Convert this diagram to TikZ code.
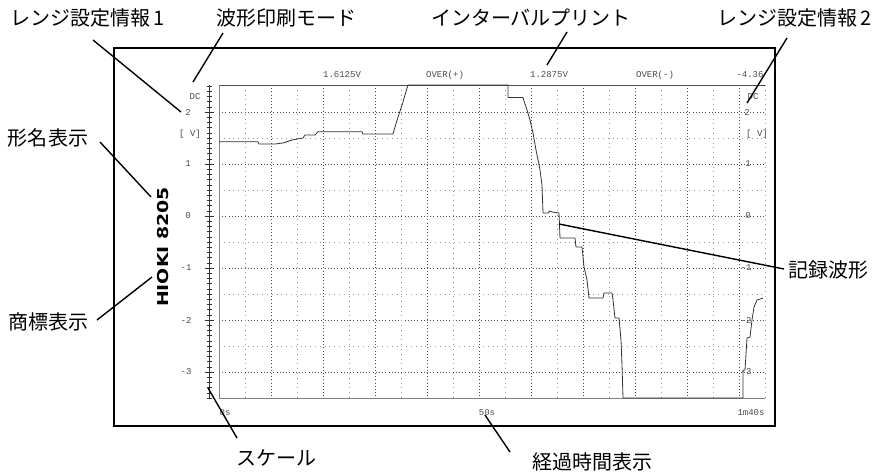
\documentclass[tikz,border=0pt]{standalone}
\usepackage{fontspec}
\usepackage{graphicx}
\newfontfamily\jpfont{Noto Sans CJK JP}
\newfontfamily\lcdfont{Liberation Mono}
\newfontfamily\logofont{DejaVu Sans}
\usetikzlibrary{calc}

\begin{document}
\begin{tikzpicture}[x=1pt, y=-1pt,
    callout/.style={font=\jpfont\fontsize{20}{22}\selectfont, inner sep=0pt},
    leader/.style={line width=1.4pt},
    lcd/.style={font=\lcdfont\fontsize{9}{10}\selectfont, text=black!70, inner sep=0pt},
    majorgrid/.style={black!70, line width=0.6pt, dash pattern=on 0.8pt off 2.4pt},
    minorgrid/.style={black!40, line width=0.6pt, dash pattern=on 0.8pt off 4pt},
    wave/.style={black!80, line width=0.8pt, line join=round}]
    \useasboundingbox (0,0) rectangle (880,473);

    % recorder paper
    \draw[line width=1.5pt] (114,48) rectangle (775,426);

    % grid
    \foreach \v in {-3,...,2}
        \draw[majorgrid] (219,{216-52*\v}) -- (765,{216-52*\v});
    \foreach \v in {-2.5,-1.5,...,1.5}
        \draw[minorgrid] (219,{216-52*\v}) -- (765,{216-52*\v});
    \foreach \k in {2,4,...,20}
        \draw[majorgrid] ({219+26*\k},85) -- ({219+26*\k},398);
    \foreach \k in {1,3,...,21}
        \draw[minorgrid] ({219+26*\k},85) -- ({219+26*\k},398);
    \draw[black!70, line width=0.8pt] (765,85) -- (219,85);
    \draw[black!50, line width=0.8pt] (219,85) -- (219,398) -- (765,398);

    % scale
    \draw[black!80, line width=0.7pt] (209,85) -- (209,398);
    \foreach \i in {0,...,60}
        \draw[black!80, line width=0.5pt] (206.5,{398-5.2*\i}) -- (211.5,{398-5.2*\i});
    \foreach \v in {-3,...,2}
        \draw[black!80, line width=0.7pt] (204.5,{216-52*\v}) -- (213.5,{216-52*\v});

    % recorded waveform
    \draw[wave] (219,141.7) -- (258,141.7) -- (259,144) -- (275,144) -- (283,143)
        -- (292,140) -- (303,138) -- (305,135) -- (315,135) -- (318,131.7)
        -- (362,131.7) -- (363,134) -- (393,134) -- (395,127) -- (398,117)
        -- (401,108) -- (403,102) -- (405,95) -- (407,88) -- (408,85)
        -- (508,85) -- (508,97.5) -- (523,97.5) -- (524,101) -- (527,110)
        -- (530,120) -- (533,133) -- (536,150) -- (540,170) -- (542,185)
        -- (543,213) -- (548,213) -- (550,211) -- (552,212) -- (559,213)
        -- (560,238) -- (575,238) -- (576,247) -- (582,247) -- (584,267)
        -- (587,280) -- (589,298) -- (603,298) -- (604,293) -- (612,293)
        -- (613,300) -- (615,318) -- (619,318) -- (621,340) -- (622,365)
        -- (623,398) -- (743,398) -- (743,370) -- (745,370) -- (747,338)
        -- (750,337) -- (752,320) -- (754,307) -- (757,300) -- (763,298);

    % printed texts
    \node[lcd] (dcL) at (195,97) {DC};
    \node[lcd] (twoL) at (188,112) {2};
    \node[lcd] (unitL) at (190,134) {[ V]};
    \node[lcd] (oneL) at (188,164) {1};
    \node[lcd] (zeroL) at (188,216) {0};
    \node[lcd] (m1L) at (186,268) {-1};
    \node[lcd] (m2L) at (186,320) {-2};
    \node[lcd] (m3L) at (186,372) {-3};

    \node[lcd] (dcR) at (753,97) {DC};
    \node[lcd] (twoR) at (747,112) {2};
    \node[lcd] (unitR) at (757,134) {[ V]};
    \node[lcd] (oneR) at (748,164) {1};
    \node[lcd] (zeroR) at (748,216) {0};
    \node[lcd] (m1R) at (746,268) {-1};
    \node[lcd] (m2R) at (746,320) {-2};
    \node[lcd] (m3R) at (746,372) {-3};

    \node[lcd] (ivA) at (342,75) {1.6125V};
    \node[lcd] (ovP) at (445,75) {OVER(+)};
    \node[lcd] (ivB) at (549,75) {1.2875V};
    \node[lcd] (ovM) at (655,75) {OVER(-)};
    \node[lcd] (ivC) at (750,75) {-4.36};

    \node[lcd] (t0) at (225,413) {0s};
    \node[lcd] (t50) at (487,413) {50s};
    \node[lcd] (t100) at (751,413) {1m40s};

    \node[rotate=90, inner sep=0pt, font=\logofont\bfseries\fontsize{15}{15}\selectfont] (brand)
        at (163,247) {\scalebox{1.26}[1]{HIOKI\ 8205}};

    % callouts
    \node[callout, anchor=west] (range1) at (10,18) {レンジ設定情報\hspace{3pt}1};
    \node[callout] (mode) at (286,18) {波形印刷モード};
    \node[callout] (interval) at (531,18) {インターバルプリント};
    \node[callout, anchor=east] (range2) at (872,18) {レンジ設定情報\hspace{3pt}2};
    \node[callout] (model) at (48,138) {形名表示};
    \node[callout] (mark) at (49,322) {商標表示};
    \node[callout] (record) at (828,270) {記録波形};
    \node[callout] (scale) at (276,458) {スケール};
    \node[callout] (elapsed) at (592,462) {経過時間表示};

    \coordinate (range1-a) at (93,40);   \coordinate (range1-b) at (181,112);
    \coordinate (mode-a) at (223,33);    \coordinate (mode-b) at (193,82);
    \coordinate (interval-a) at (567,32); \coordinate (interval-b) at (547,65);
    \coordinate (range2-a) at (787,38);  \coordinate (range2-b) at (747,103);
    \coordinate (model-a) at (100,142);  \coordinate (model-b) at (151,197);
    \coordinate (mark-a) at (97,320);    \coordinate (mark-b) at (152,277);
    \coordinate (record-a) at (784,269); \coordinate (record-b) at (559,224);
    \coordinate (scale-a) at (237,438);  \coordinate (scale-b) at (208,388);
    \coordinate (elapsed-a) at (510,452); \coordinate (elapsed-b) at (485,415);

    \foreach \c in {range1,mode,interval,range2,model,mark,record,scale,elapsed}
        \draw[leader] (\c-a) -- (\c-b);
\end{tikzpicture}
\end{document}
